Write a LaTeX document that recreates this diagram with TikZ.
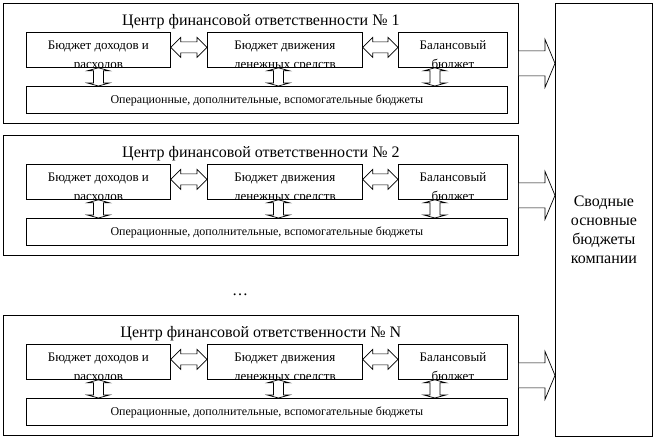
\documentclass[tikz,border=0pt]{standalone}
\usepackage{fontspec}
\setmainfont{Liberation Serif}
\usetikzlibrary{calc}

\tikzset{
  box/.style = {draw, line width=.8pt, inner sep=0pt},
  blockarrow/.style = {draw, line width=.7pt, fill=white, line join=miter},
  head/.style = {font=\fontsize{16}{19}\selectfont, inner sep=0pt, anchor=base},
  lbl/.style = {font=\fontsize{13}{16}\selectfont, inner sep=0pt, anchor=base}
}

% horizontal two-way arrow between two node sides
\newcommand\harrow[2]{%
  \draw[blockarrow] let \p1 = (#1), \p2 = (#2) in
    (\x1,\y1) -- (\x1+10pt,\y1+10pt) -- (\x1+10pt,\y1+5.5pt) -- (\x2-10pt,\y1+5.5pt)
    -- (\x2-10pt,\y1+10pt) -- (\x2,\y1) -- (\x2-10pt,\y1-10pt) -- (\x2-10pt,\y1-5.5pt)
    -- (\x1+10pt,\y1-5.5pt) -- (\x1+10pt,\y1-10pt) -- cycle;}

% vertical two-way arrow
\newcommand\varrow[2]{%
  \draw[blockarrow] let \p1 = (#1), \p2 = (#2) in
    (\x1,\y1) -- (\x1+11pt,\y1-3pt) -- (\x1+5pt,\y1-3pt) -- (\x1+5pt,\y2+3pt)
    -- (\x1+11pt,\y2+3pt) -- (\x1,\y2) -- (\x1-11pt,\y2+3pt) -- (\x1-5pt,\y2+3pt)
    -- (\x1-5pt,\y1-3pt) -- (\x1-11pt,\y1-3pt) -- cycle;}

% wide arrow into the summary box
\newcommand\bigarrow[2]{%
  \draw[blockarrow] let \p1 = (#1), \p2 = (#2) in
    (\x1,\y1+12.5pt) -- (\x2-10pt,\y1+12.5pt) -- (\x2-10pt,\y1+24pt) -- (\x2,\y1)
    -- (\x2-10pt,\y1-24pt) -- (\x2-10pt,\y1-12.5pt) -- (\x1,\y1-12.5pt);}

% budget box, two lines of text cut at the frame
\newcommand\budget[6]{% name, left, right, top, line 1, line 2
  \node[box, anchor=north west, minimum width=#3-#2, minimum height=35] (#1) at (#2,#4) {};
  \begin{scope}
    \clip (#1.north west) rectangle (#1.south east);
    \node[lbl] (#1a) at ($(#1.north)+(0,-18)$) {#5};
    \node[lbl] (#1b) at ($(#1.north)+(0,-37)$) {#6};
  \end{scope}}

\begin{document}
\begin{tikzpicture}[x=1pt, y=1pt]
  \useasboundingbox (0,0) rectangle (654,-438);

  \node[box, anchor=north west, minimum width=97, minimum height=433] (total) at (555,-3) {};
  \node[head, anchor=center, align=center] (totalname) at ($(total.center)+(0,-10)$)
    {Сводные\\основные\\бюджеты\\компании};

  \foreach \i/\yo/\n in {1/-3/1, 2/-135/2, 3/-315/N} {
    \node[box, anchor=north west, minimum width=515, minimum height=120] (cfo\i) at (3,\yo) {};
    \node[head] (cfoname\i) at ($(cfo\i.north)+(0,-23)$) {Центр финансовой ответственности № \n};
    \budget{inc\i}{26}{170}{\yo-29}{Бюджет доходов и}{расходов}
    \budget{cash\i}{207}{362}{\yo-29}{Бюджет движения}{денежных средств}
    \budget{bal\i}{398}{507}{\yo-29}{Балансовый}{бюджет}
    \node[box, anchor=north west, minimum width=481, minimum height=27] (ops\i) at (26,\yo-83) {};
    \node[lbl, font=\fontsize{12}{14}\selectfont] (opsname\i) at ($(ops\i.center)+(0,-4)$)
      {Операционные, дополнительные, вспомогательные бюджеты};
    \harrow{$(inc\i.east)+(0,2.5)$}{cash\i.west}
    \harrow{$(cash\i.east)+(0,2.5)$}{bal\i.west}
    \varrow{inc\i.south}{ops\i.north}
    \varrow{$(cash\i.south)+(-6.5,0)$}{ops\i.north}
    \varrow{$(bal\i.south)+(-18,0)$}{ops\i.north}
    \bigarrow{cfo\i.east}{total.west}
  }

  \node[head] (more) at (240,-296) {\ldots};
\end{tikzpicture}
\end{document}
